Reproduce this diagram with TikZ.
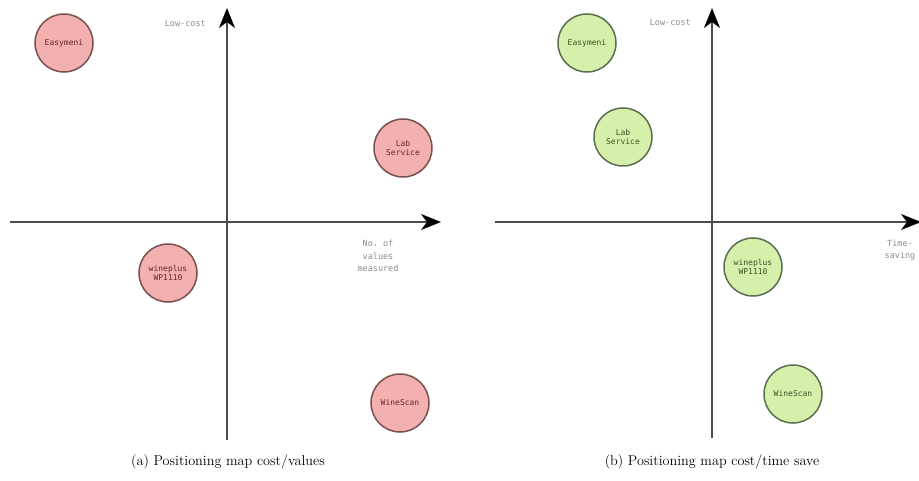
\documentclass[tikz,border=0pt]{standalone}
\usepackage{fontspec}
\setmonofont{DejaVu Sans Mono}
\usepackage{xcolor}
\usetikzlibrary{arrows.meta}

\definecolor{pinkfill}{RGB}{242,176,176}
\definecolor{pinkline}{RGB}{120,80,80}
\definecolor{pinktext}{RGB}{110,35,35}
\definecolor{greenfill}{RGB}{214,240,172}
\definecolor{greenline}{RGB}{90,110,80}
\definecolor{greentext}{RGB}{55,85,35}

\begin{document}
\begin{tikzpicture}[x=1pt,y=-1pt, >={Stealth[length=20pt,width=16pt,inset=6pt,black]},
  axis/.style={draw=black!70,line width=1.8pt,->},
  axlabel/.style={font=\ttfamily\fontsize{8.5}{12.5}\selectfont,text=black!45,align=center,inner sep=0pt},
  item/.style={circle,line width=1.5pt,minimum size=58pt,inner sep=0pt,align=center,
    font=\ttfamily\fontsize{8}{9.5}\selectfont},
  pinkitem/.style={item,draw=pinkline,fill=pinkfill,text=pinktext},
  greenitem/.style={item,draw=greenline,fill=greenfill,text=greentext},
  caption/.style={font=\fontsize{14.2}{16}\selectfont,inner sep=0pt}]
\useasboundingbox (0,0) rectangle (919,481);

% (a) cost / values
\coordinate (a-bot) at (227,440);
\coordinate (a-top) at (227,8);
\coordinate (a-left) at (10,222);
\coordinate (a-right) at (441,222);
\draw[axis] (a-bot) -- (a-top);
\draw[axis] (a-left) -- (a-right);
\node[axlabel,anchor=east] (a-cost) at (206,23) {Low-cost};
\node[axlabel] (a-val) at (378,256) {No. of\\values\\measured};
\node[pinkitem] (a-easy) at (64,43) {Easymeni};
\node[pinkitem] (a-lab) at (403,148) {Lab\\Service};
\node[pinkitem] (a-wine) at (168,273) {wineplus\\WP1110};
\node[pinkitem] (a-scan) at (400,403) {WineScan};
\node[caption] (a-cap) at (228,462) {(a) Positioning map cost/values};

% (b) cost / time save
\coordinate (b-bot) at (712,438);
\coordinate (b-top) at (712,8);
\coordinate (b-left) at (495,222);
\coordinate (b-right) at (921,222);
\draw[axis] (b-bot) -- (b-top);
\draw[axis] (b-left) -- (b-right);
\node[axlabel,anchor=east] (b-cost) at (691,22) {Low-cost};
\node[axlabel] (b-time) at (900,250) {Time-\\saving};
\node[greenitem] (b-easy) at (587,43) {Easymeni};
\node[greenitem] (b-lab) at (623,137) {Lab\\Service};
\node[greenitem] (b-wine) at (753,267) {wineplus\\WP1110};
\node[greenitem] (b-scan) at (793,394) {WineScan};
\node[caption] (b-cap) at (712,462) {(b) Positioning map cost/time save};
\end{tikzpicture}
\end{document}
